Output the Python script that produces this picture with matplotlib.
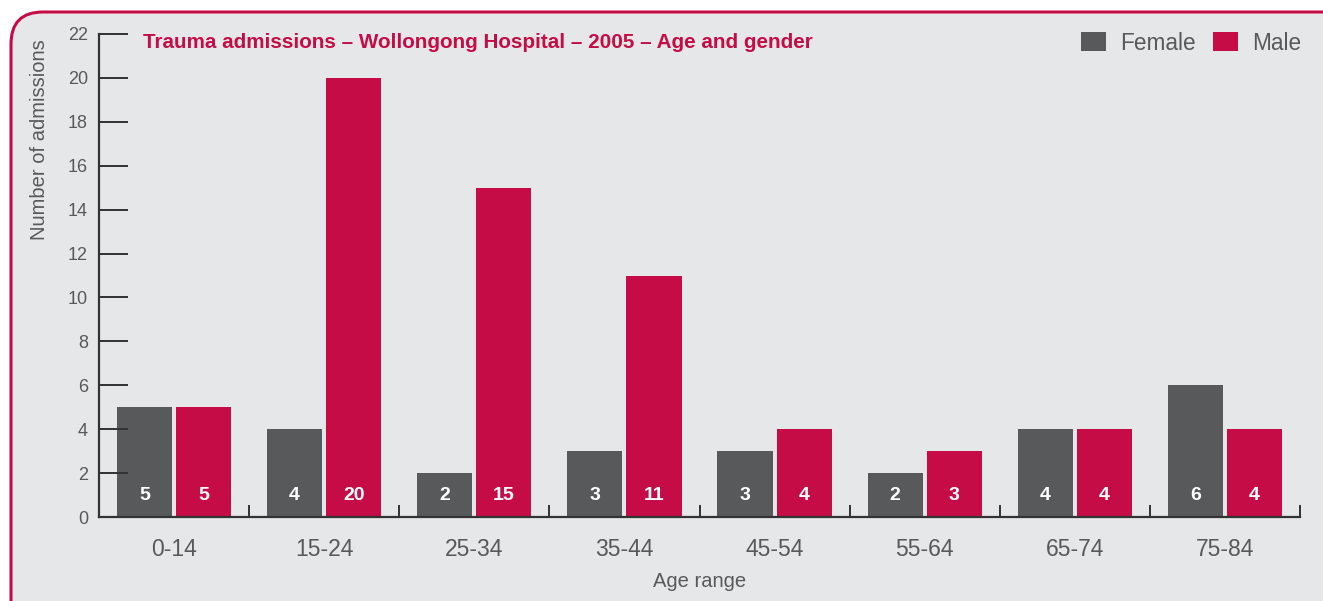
import matplotlib.pyplot as plt
import numpy as np
from matplotlib.patches import FancyBboxPatch

# data
age_ranges = ['0-14', '15-24', '25-34', '35-44', '45-54', '55-64', '65-74', '75-84']
female = [5, 4, 2, 3, 3, 2, 4, 6]
male = [5, 20, 15, 11, 4, 3, 4, 4]
y_ticks = [0, 2, 4, 6, 8, 10, 12, 14, 16, 18, 20, 22]

FEMALE_COLOR = '#58595b'
MALE_COLOR = '#c60c46'
PANEL_COLOR = '#e6e7e9'
TEXT_COLOR = '#58595b'
AXIS_COLOR = '#333333'

plt.rcParams['font.family'] = ['Liberation Sans', 'DejaVu Sans']

W, H = 1323, 601
fig = plt.figure(figsize=(W / 100, H / 100), dpi=100)
fig.patch.set_facecolor('white')

# rounded background panel, drawn in pixel coordinates
bg = fig.add_axes([0, 0, 1, 1])
bg.set_xlim(0, W)
bg.set_ylim(H, 0)
bg.axis('off')
bg.add_patch(FancyBboxPatch((11, 12), W + 40, H + 40,
                            boxstyle='round,pad=0,rounding_size=32',
                            facecolor=PANEL_COLOR, edgecolor=MALE_COLOR,
                            linewidth=2.2))

ax = fig.add_axes([99 / W, 84 / H, 1201 / W, 483 / H])
ax.set_facecolor('none')

x = np.arange(len(age_ranges))
width = 0.367
offset = 0.197
bars_f = ax.bar(x - offset, female, width, color=FEMALE_COLOR, label='Female')
bars_m = ax.bar(x + offset, male, width, color=MALE_COLOR, label='Male')

for bars, vals in ((bars_f, female), (bars_m, male)):
    for b, v in zip(bars, vals):
        ax.text(b.get_x() + b.get_width() / 2, 1.0, str(v), ha='center', va='center',
                color='white', fontsize=14, fontweight='bold')

ax.set_xlim(-0.5, len(age_ranges) - 0.5)
ax.set_ylim(0, 22)

for side in ('top', 'right'):
    ax.spines[side].set_visible(False)
for side in ('left', 'bottom'):
    ax.spines[side].set_color(AXIS_COLOR)
    ax.spines[side].set_linewidth(1.6)

ax.set_yticks(y_ticks)
ax.tick_params(axis='y', direction='in', length=21, width=1.4, color=AXIS_COLOR,
               labelsize=13, labelcolor=TEXT_COLOR, pad=8)
ax.set_xticks(x)
ax.set_xticklabels(age_ranges)
ax.tick_params(axis='x', which='major', length=0, labelsize=16.5,
               labelcolor=TEXT_COLOR, pad=15)
ax.set_xticks(np.arange(0.5, len(age_ranges)), minor=True)
ax.tick_params(axis='x', which='minor', direction='in', length=8.5, width=1.4,
               color=AXIS_COLOR)

ax.set_xlabel('Age range', fontsize=14.5, color=TEXT_COLOR, labelpad=8)
ax.set_ylabel('Number of admissions', fontsize=14.5, color=TEXT_COLOR, loc='top')
ax.yaxis.set_label_coords(-50 / 1201, 0.99)

fig.text(143 / W, 1 - 43 / H, 'Trauma admissions \u2013 Wollongong Hospital \u2013 2005 \u2013 Age and gender',
         color=MALE_COLOR, fontsize=14.9, fontweight='bold', va='center', ha='left')

leg = ax.legend(ncol=2, loc='center right', bbox_to_anchor=(1301 / W, 1 - 43 / H),
                bbox_transform=fig.transFigure, frameon=False, fontsize=16.3,
                handlelength=1.1, handleheight=0.9, handletextpad=0.6,
                columnspacing=0.8, borderpad=0, borderaxespad=0)
for t in leg.get_texts():
    t.set_color(TEXT_COLOR)

fig.savefig('out.png', dpi=100)
